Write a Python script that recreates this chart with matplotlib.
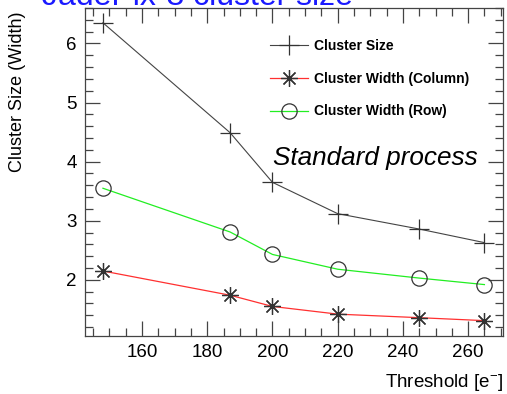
import matplotlib
matplotlib.use("Agg")
import matplotlib.pyplot as plt
from matplotlib.ticker import MultipleLocator

plt.rcParams['font.family'] = ['Liberation Sans', 'DejaVu Sans']
plt.rcParams['mathtext.default'] = 'regular'

threshold = [148, 187, 200, 220, 245, 265]
cluster_size = [6.35, 4.49, 3.65, 3.12, 2.86, 2.63]
width_column = [2.15, 1.74, 1.55, 1.42, 1.36, 1.31]
width_row = [3.55, 2.81, 2.43, 2.18, 2.03, 1.92]
labels = ["Cluster Size", "Cluster Width (Column)", "Cluster Width (Row)"]

W, H = 507, 394
fig = plt.figure(figsize=(W/100, H/100), dpi=100)
ax = fig.add_axes([85/W, 1-336/H, (503-85)/W, (336-8)/H])

edge = '#333333'
ax.plot(threshold, cluster_size, color='#444444', lw=0.8, marker='+', ms=14,
        mec=edge, mew=0.9, label=labels[0])
ax.plot(threshold, width_column, color='#ff3030', lw=0.9, marker=(8, 2, 0), ms=12,
        mec=edge, mew=0.9, label=labels[1])
ax.plot(threshold, width_row, color='#22ee22', lw=0.9, marker='o', ms=11,
        mfc='none', mec=edge, mew=0.9, label=labels[2])

ax.set_xlim(142.5, 270.7)
ax.set_ylim(1.05, 6.6)
ax.xaxis.set_major_locator(MultipleLocator(20))
ax.xaxis.set_minor_locator(MultipleLocator(5))
ax.yaxis.set_major_locator(MultipleLocator(1))
ax.yaxis.set_minor_locator(MultipleLocator(0.2))
ax.tick_params(which='both', direction='in', top=True, right=True, colors='#444444',
               labelcolor='black', labelsize=13.5, width=0.9)
ax.tick_params(which='major', length=11, pad=6)
ax.tick_params(which='minor', length=5.5)
for s in ax.spines.values():
    s.set_color('#444444')
    s.set_linewidth(0.9)

leg = ax.legend(loc='upper left', bbox_to_anchor=(270/W, 1-39/H),
                bbox_transform=fig.transFigure, frameon=False,
                prop={'weight': 'bold', 'size': 10}, handlelength=2.7,
                handletextpad=0.45, labelspacing=1.35, borderpad=0, borderaxespad=0)

ax.text(273/W, 1-165/H, "Standard process", transform=fig.transFigure,
        fontsize=18.8, style='italic', ha='left', va='baseline')

fig.text(18/W, 1-12/H, "Cluster Size (Width)", rotation=90, ha='center', va='top',
         fontsize=13)
fig.text(503/W, 1-387/H, "Threshold [e$^{-}$]", ha='right', va='baseline', fontsize=13.5)
fig.text(42/W, 1-5/H, "JadePix-3 cluster size", color='#1a1aff', fontsize=23,
         ha='left', va='baseline')

fig.savefig("out.png", dpi=100)
